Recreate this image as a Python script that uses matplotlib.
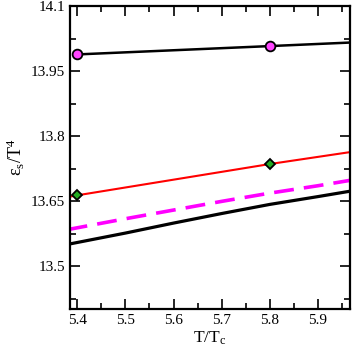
import numpy as np
import matplotlib
matplotlib.use('Agg')
import matplotlib.pyplot as plt
from matplotlib.ticker import MultipleLocator

plt.rcParams['font.family'] = ['Liberation Serif', 'DejaVu Serif']
plt.rcParams['mathtext.fontset'] = 'stix'

# curves
t_thick = [5.38, 5.5, 5.6, 5.7, 5.8, 5.9, 5.97]
e_thick = [13.551, 13.577, 13.600, 13.622, 13.643, 13.661, 13.674]

t_dash = [5.38, 5.5, 5.6, 5.7, 5.8, 5.9, 5.97]
e_dash = [13.585, 13.610, 13.630, 13.650, 13.669, 13.686, 13.699]

t_red = [5.38, 5.4, 5.8, 5.97]
e_red = [13.660, 13.664, 13.736, 13.764]

t_top = [5.4, 5.8, 5.97]
e_top = [13.9885, 14.0077, 14.016]

# data points
t_circ = [5.4, 5.8]
e_circ = [13.9885, 14.0077]
t_diam = [5.4, 5.8]
e_diam = [13.664, 13.736]

fig = plt.figure(figsize=(3.54, 3.54), dpi=100)
ax = fig.add_axes([0.198, 0.127, 0.791, 0.856])

ax.plot(t_thick, e_thick, color='black', lw=2.3)
ax.plot(t_dash, e_dash, color='#ff00ff', lw=2.6, dashes=(5.5, 2.8))
ax.plot(t_red, e_red, color='red', lw=1.5)
ax.plot(t_top, e_top, color='black', lw=1.8)
ax.plot(t_circ, e_circ, 'o', ms=7, mfc='#ff44ff', mec='black', mew=1.3)
ax.plot(t_diam, e_diam, 'D', ms=5, mfc='#22aa22', mec='black', mew=1.3)

ax.set_xlim(5.385, 5.967)
ax.set_ylim(13.402, 14.1)
ax.xaxis.set_major_locator(MultipleLocator(0.1))
ax.xaxis.set_minor_locator(MultipleLocator(0.05))
ax.set_yticks([13.5, 13.65, 13.8, 13.95, 14.1])
ax.set_yticklabels(['13.5', '13.65', '13.8', '13.95', '14.1'])
ax.yaxis.set_minor_locator(MultipleLocator(0.075))

ax.tick_params(which='both', direction='in', top=True, right=True, labelsize=11, width=1.2)
ax.tick_params(which='major', length=7)
ax.tick_params(which='minor', length=4)
for s in ax.spines.values():
    s.set_linewidth(1.6)

ax.set_xlabel(r'$\mathregular{T/T_c}$', fontsize=12.5, labelpad=2)
ax.set_ylabel(r'$\mathregular{ε_s/T^4}$', fontsize=13, labelpad=3)

fig.savefig('out.png', dpi=100)
